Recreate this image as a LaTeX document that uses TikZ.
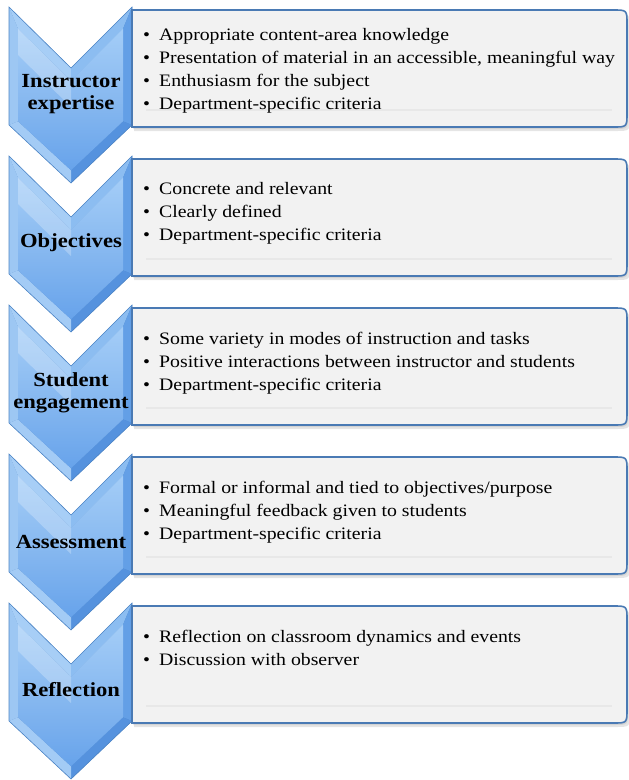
\documentclass[tikz,border=0pt]{standalone}
\usepackage{fontspec}
\setmainfont[FakeStretch=1.13]{Liberation Serif}
\definecolor{cvline}{HTML}{4F86C6}
\definecolor{cvleft}{HTML}{9DC7F3}
\definecolor{cvtl}{HTML}{A7CEF6}
\definecolor{cvtr}{HTML}{8CBDF1}
\definecolor{cvright}{HTML}{639FE6}
\definecolor{cvbr}{HTML}{5592DE}
\definecolor{cvbl}{HTML}{A3CBF5}
\definecolor{cvtop}{HTML}{A4CDF7}
\definecolor{cvbot}{HTML}{67A3EB}
\definecolor{boxfill}{HTML}{F2F2F2}
\definecolor{boxline}{HTML}{4A7AB4}
\tikzset{
  chevlabel/.style={font=\fontsize{20}{22.5}\selectfont\bfseries, align=center, inner sep=0pt},
  itemtext/.style={font=\fontsize{17.5}{21}\selectfont, anchor=base west, inner sep=0pt},
  boxpath/.style={fill=boxfill, draw=boxline, line width=1.6pt},
}
\newcommand{\mkchev}[1]{%
 \begin{scope}[shift={(0,#1)}]
  \fill[cvline] (9,0) -- (71,61) -- (132,0) -- (132,118) -- (71,176) -- (9,118) -- cycle;
  \fill[cvleft]  (9,0) -- (18,21.7) -- (18,114.3) -- (9,118) -- cycle;
  \fill[cvtl]    (9,0) -- (71,61) -- (71,73.7) -- (18,21.7) -- cycle;
  \fill[cvtr]    (71,61) -- (132,0) -- (123,21.7) -- (71,73.7) -- cycle;
  \fill[cvright] (132,0) -- (132,118) -- (123,114.3) -- (123,21.7) -- cycle;
  \fill[cvbr]    (132,118) -- (71,176) -- (71,163.3) -- (123,114.3) -- cycle;
  \fill[cvbl]    (71,176) -- (9,118) -- (18,114.3) -- (71,163.3) -- cycle;
  \shade[top color=cvtop, bottom color=cvbot, middle color=cvleft!60!cvbot]
     (18,21.7) -- (71,73.7) -- (123,21.7) -- (123,114.3) -- (71,163.3) -- (18,114.3) -- cycle;
  \fill[white, opacity=0.25] (18,21.7) -- (71,73.7) -- (71,100) -- (18,48) -- cycle;
  \draw[cvline, line width=0.6pt] (9,0) -- (71,61) -- (132,0) -- (132,118) -- (71,176) -- (9,118) -- cycle;
 \end{scope}}
\newcommand{\mkbox}[2]{%
 \begin{scope}[shift={(0,#1)}]
  \fill[black, opacity=0.10] (134,7) -- (615,7) .. controls (630,7) .. (630,21) -- (630,110) .. controls (630,124) .. (615,124) -- (134,124) -- cycle;
  \fill[black, opacity=0.08] (133,5) -- (614,5) .. controls (628,5) .. (628,19) -- (628,108) .. controls (628,122) .. (614,122) -- (133,122) -- cycle;
  \path[boxpath] (132,3) -- (613,3) .. controls (627,3) .. (627,17) -- (627,106) .. controls (627,120) .. (613,120) -- (132,120) -- cycle;
  \draw[black!9, line width=1.5pt] (146,103) -- (612,103);
  \coordinate (#2) at (380,60);
 \end{scope}}
\newcommand{\itm}[3]{\node[itemtext] (#1) at (143,#2) {\makebox[16pt][l]{\textbullet}#3};}
\begin{document}
\begin{tikzpicture}[x=1pt,y=-1pt]
\useasboundingbox (0,0) rectangle (629,780);
\fill[white] (0,0) rectangle (629,780);
\mkchev{7}
\mkchev{156}
\mkchev{305}
\mkchev{454}
\mkchev{603}
\mkbox{7}{b1}
\mkbox{156}{b2}
\mkbox{305}{b3}
\mkbox{454}{b4}
\mkbox{603}{b5}
\node[chevlabel] (l1) at (71,94) {Instructor\\expertise};
\node[chevlabel] (l2) at (71,243) {Objectives};
\node[chevlabel] (l3) at (71,393) {Student\\engagement};
\node[chevlabel] (l4) at (71,542) {Assessment};
\node[chevlabel] (l5) at (71,690) {Reflection};
\itm{a1}{40}{Appropriate content-area knowledge}
\itm{a2}{63}{Presentation of material in an accessible, meaningful way}
\itm{a3}{86}{Enthusiasm for the subject}
\itm{a4}{109}{Department-specific criteria}
\itm{o1}{194}{Concrete and relevant}
\itm{o2}{217}{Clearly defined}
\itm{o3}{240}{Department-specific criteria}
\itm{s1}{344}{Some variety in modes of instruction and tasks}
\itm{s2}{367}{Positive interactions between instructor and students}
\itm{s3}{390}{Department-specific criteria}
\itm{e1}{493}{Formal or informal and tied to objectives/purpose}
\itm{e2}{516}{Meaningful feedback given to students}
\itm{e3}{539}{Department-specific criteria}
\itm{r1}{642}{Reflection on classroom dynamics and events}
\itm{r2}{665}{Discussion with observer}
\end{tikzpicture}
\end{document}
